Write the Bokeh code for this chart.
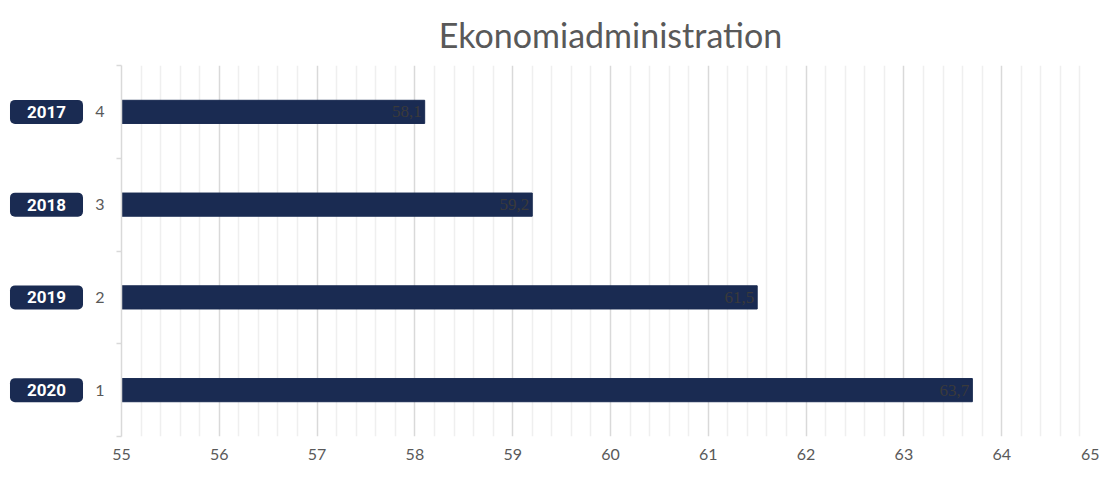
from bokeh.plotting import figure
from bokeh.layouts import row
from bokeh.models import FixedTicker, LabelSet, ColumnDataSource, Range1d
from bokeh.core.properties import value
from bokeh.embed import file_html
from bokeh.resources import INLINE

title = "Ekonomiadministration"
years = ["2017", "2018", "2019", "2020"]
cats = [4, 3, 2, 1]
values = [58.1, 59.2, 61.5, 63.7]
value_labels = ["58,1", "59,2", "61,5", "63,7"]
x_ticks = [55, 56, 57, 58, 59, 60, 61, 62, 63, 64, 65]

NAVY = "#1a2b52"
GRAY = "#595959"
FONT = "Lato"
H = 462
LW = 92

src = ColumnDataSource(dict(cat=cats, value=values, label=value_labels, year=years))
yr = Range1d(0.5, 4.5)


def style_title(fig, text):
    fig.title.text = text
    fig.title.text_font = FONT
    fig.title.text_font_size = "34px"
    fig.title.text_font_style = "normal"
    fig.title.text_color = GRAY
    fig.title.align = "center"
    fig.title.standoff = 22


def style_xaxis(fig):
    fig.xaxis.axis_line_color = None
    fig.xaxis.major_tick_line_color = None
    fig.xaxis.minor_tick_line_color = None
    fig.xaxis.major_label_text_color = GRAY
    fig.xaxis.major_label_text_font = FONT
    fig.xaxis.major_label_text_font_size = "16px"
    fig.xaxis.major_label_standoff = 6


# ---- left strip with the year badges ----
left = figure(width=LW, height=H, x_range=Range1d(0, LW), y_range=yr,
              output_backend="svg", toolbar_location=None,
              min_border_left=0, min_border_right=0, min_border_top=0, min_border_bottom=0)
style_title(left, " ")
left.outline_line_color = None
left.grid.grid_line_color = None
left.yaxis.visible = False
left.xaxis.ticker = FixedTicker(ticks=[LW / 2])
style_xaxis(left)
left.xaxis.major_label_text_alpha = 0
left.text(x=46, y="cat", text="year", source=src, text_align="center",
          text_baseline="middle", text_color="white", text_font=value("Roboto"),
          text_font_style="bold", text_font_size=value("17px"),
          background_fill_color=NAVY, border_radius=5,
          padding=dict(left=17, right=17, top=6, bottom=6))

# ---- main chart ----
p = figure(width=1099 - LW, height=H, x_range=Range1d(55, 65), y_range=yr,
           output_backend="svg", toolbar_location=None,
           min_border_left=20, min_border_right=0, min_border_top=0, min_border_bottom=0)
style_title(p, title)
p.outline_line_color = None

p.hbar(y="cat", left=55, right="value", height=0.25, source=src, fill_color=NAVY, line_color=NAVY)

p.add_layout(LabelSet(x="value", y="cat", text="label", source=src, x_offset=-3,
                      text_align="right", text_baseline="middle", text_color="#3a3a3a",
                      text_font=FONT, text_font_size="17px"))

minor = [55 + i * 0.2 for i in range(51) if i % 5 != 0]
p.xgrid.ticker = FixedTicker(ticks=x_ticks, minor_ticks=minor)
p.xgrid.grid_line_color = "#d9d9d9"
p.xgrid.grid_line_width = 1.5
p.xgrid.minor_grid_line_color = "#efefef"
p.xgrid.minor_grid_line_width = 1.5
p.ygrid.grid_line_color = None

p.xaxis.ticker = FixedTicker(ticks=x_ticks)
style_xaxis(p)

p.yaxis.ticker = FixedTicker(ticks=[1, 2, 3, 4], minor_ticks=[0.5, 1.5, 2.5, 3.5, 4.5])
p.yaxis.axis_line_color = "#d9d9d9"
p.yaxis.axis_line_width = 1.5
p.yaxis.major_tick_line_color = None
p.yaxis.major_tick_out = 0
p.yaxis.major_tick_in = 0
p.yaxis.minor_tick_line_color = "#d9d9d9"
p.yaxis.minor_tick_line_width = 1.5
p.yaxis.minor_tick_out = 5
p.yaxis.minor_tick_in = 0
p.yaxis.major_label_text_color = GRAY
p.yaxis.major_label_text_font = FONT
p.yaxis.major_label_text_font_size = "16px"
p.yaxis.major_label_standoff = 12

layout = row(left, p, spacing=0)
open("out.html", "w").write(file_html(layout, INLINE))
